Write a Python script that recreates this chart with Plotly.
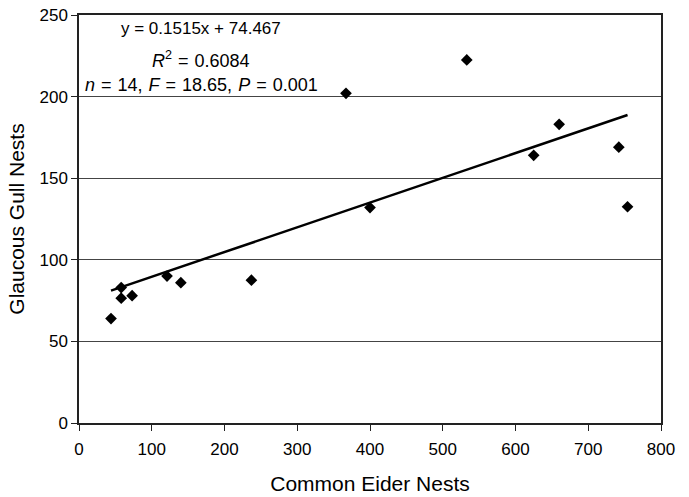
import plotly.graph_objects as go

eider_nests = [44, 58, 58, 73, 121, 140, 237, 367, 400, 533, 625, 660, 742, 754]
gull_nests = [64, 83, 76.5, 78, 90, 86, 87.5, 202, 132, 222.5, 164, 183, 169, 132.5]
slope = 0.1515
intercept = 74.467
x_ticks = [0, 100, 200, 300, 400, 500, 600, 700, 800]
y_ticks = [0, 50, 100, 150, 200, 250]

font_family = "Liberation Sans, Arial, sans-serif"

line_x = [min(eider_nests), max(eider_nests)]
line_y = [slope * v + intercept for v in line_x]

fig = go.Figure()
fig.add_trace(go.Scatter(x=line_x, y=line_y, mode="lines",
                         line=dict(color="black", width=2.5), showlegend=False))
fig.add_trace(go.Scatter(x=eider_nests, y=gull_nests, mode="markers",
                         marker=dict(symbol="diamond", size=9, color="black"),
                         showlegend=False))

sp = "\u2004"
ann_lines = [
    ("y = 0.1515x + 74.467", 241.6, 17),
    (f"<i>R</i><sup>2</sup>{sp}={sp}0.6084", 222.6, 18),
    (f"<i>n</i>{sp}={sp}14,{sp}<i>F</i>{sp}={sp}18.65,{sp}<i>P</i>{sp}={sp}0.001", 207.2, 18),
]
for txt, yy, fs in ann_lines:
    fig.add_annotation(x=168, y=yy, xref="x", yref="y", text=txt, showarrow=False,
                       font=dict(family=font_family, size=fs, color="black"),
                       xanchor="center", yanchor="middle")

fig.update_layout(
    width=689, height=497,
    margin=dict(l=79, r=28, t=15, b=74),
    paper_bgcolor="white", plot_bgcolor="white",
    font=dict(family=font_family, color="black"),
)
fig.update_xaxes(range=[0, 800], tickvals=x_ticks, ticktext=[str(v) for v in x_ticks],
                 showgrid=False, zeroline=False, automargin=False,
                 showline=True, linecolor="#222", linewidth=1.5, mirror=True,
                 ticks="outside", ticklen=6, tickcolor="#222", tickwidth=1,
                 ticklabelstandoff=4, ticklabeloverflow="allow",
                 tickfont=dict(size=17),
                 title=dict(text="Common Eider Nests", font=dict(size=21), standoff=18))
fig.update_yaxes(range=[0, 250], tickvals=y_ticks, ticktext=[str(v) for v in y_ticks],
                 showgrid=True, gridcolor="#444", gridwidth=1, zeroline=False, automargin=False,
                 showline=True, linecolor="#222", linewidth=1.5, mirror=True,
                 ticks="outside", ticklen=6, tickcolor="#222", tickwidth=1,
                 ticklabeloverflow="allow",
                 tickfont=dict(size=17),
                 title=dict(text="Glaucous Gull Nests", font=dict(size=21), standoff=9))

fig.write_html("out.html", config={"displayModeBar": False},
               post_script="document.body.style.margin='0';")
